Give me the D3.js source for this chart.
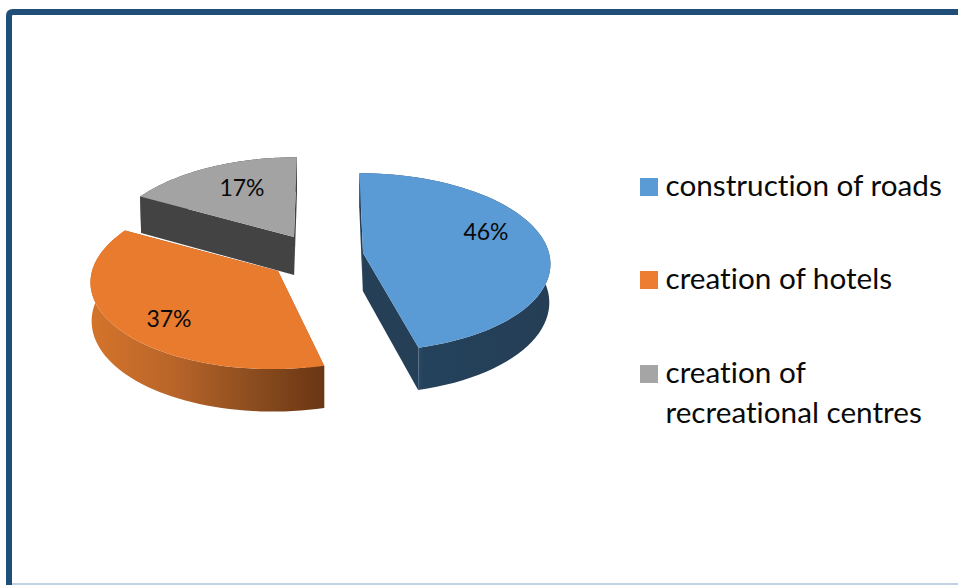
<!DOCTYPE html>
<html>
<head>
<meta charset="utf-8">
<script src="https://cdn.jsdelivr.net/npm/d3@7"></script>
<style>
html,body{margin:0;padding:0;background:#fff;overflow:hidden}
text{font-family:Lato,"Open Sans",sans-serif;fill:#0a0a0a;font-variant-ligatures:none}
</style>
</head>
<body>
<svg id="c" width="958" height="585"></svg>
<script>
const categories = ["construction of roads", "creation of hotels", "creation of recreational centres"];
const values = [46, 37, 17];
const valueLabels = ["46%", "37%", "17%"];
const topColors = ["#5b9bd5", "#e97b2f", "#a3a3a3"];
const wallColors = ["#253f57", "#8a4c1d", "#434343"];

// Layout: apex of each exploded slice and the 3D look of the pie
const apexes = [[363, 253], [278, 271], [294, 237]];
const labelAt = [[486, 231], [169, 318], [242, 187]];
const legendLines = [["construction of roads"], ["creation of hotels"], ["creation of", "recreational centres"]];
const legendBase = [196, 289, 383];
const R = 186, RY = 88, PERSP = 0.103, VX = 325, DEPTH = 37, BOTTOM_X = 0.995;

const svg = d3.select("#c");
const defs = svg.append("defs");

// frame
svg.append("path").attr("d", "M9 585V16Q9 12 13 12H958")
  .attr("fill", "none").attr("stroke", "#1f4e79").attr("stroke-width", 6);
svg.append("line").attr("x1", 12).attr("x2", 958).attr("y1", 584).attr("y2", 584)
  .attr("stroke", "#adc4da").attr("stroke-width", 1.5);

// gradients for the curved side walls
const g1 = defs.append("linearGradient").attr("id", "wall1").attr("gradientUnits", "userSpaceOnUse")
  .attr("x1", 90).attr("x2", 326).attr("y1", 0).attr("y2", 0);
[[0, "#d4742b"], [0.35, "#b9652a"], [0.7, "#8a4c1e"], [1, "#693513"]].forEach(s =>
  g1.append("stop").attr("offset", s[0]).attr("stop-color", s[1]));
const g0 = defs.append("linearGradient").attr("id", "wall0").attr("gradientUnits", "userSpaceOnUse")
  .attr("x1", 415).attr("x2", 550).attr("y1", 0).attr("y2", 0);
[[0, "#2b5072"], [0.06, "#25425c"], [1, "#243e55"]].forEach(s =>
  g0.append("stop").attr("offset", s[0]).attr("stop-color", s[1]));

const pieAngles = d3.pie().sort(null).value(d => d)(values);
const line = d3.line();

function project(i, a, r, bottom) {
  const u = Math.sin(a) * r, v = -Math.cos(a) * r;
  const k = 1 / (1 - PERSP * v);
  let x = VX + (apexes[i][0] + R * u - VX) * k;
  let y = apexes[i][1] + RY * v * k;
  if (bottom) { x = VX + (x - VX) * BOTTOM_X; y += DEPTH * k * 1.03; }
  return [x, y];
}
const arcAngles = (s) => d3.range(0, 61).map(j => s.startAngle + (s.endAngle - s.startAngle) * j / 60);

// draw back slices first
[2, 0, 1].forEach(i => {
  const s = pieAngles[i];
  const g = svg.append("g");
  const angles = arcAngles(s);
  const topArc = angles.map(a => project(i, a, 1, false));
  const botArc = angles.map(a => project(i, a, 1, true));
  const apexT = project(i, 0, 0, false), apexB = project(i, 0, 0, true);
  // cut faces
  [s.startAngle, s.endAngle].forEach(a => {
    g.append("path").attr("fill", wallColors[i]).attr("d", line([
      apexT, project(i, a, 1, false), project(i, a, 1, true), apexB
    ]) + "Z");
  });
  // curved wall
  g.append("path")
    .attr("fill", i === 0 ? "url(#wall0)" : i === 1 ? "url(#wall1)" : wallColors[i])
    .attr("d", line(topArc.concat(botArc.slice().reverse())) + "Z");
  // top
  g.append("path").attr("fill", topColors[i]).attr("d", line([apexT].concat(topArc)) + "Z");
});

// value labels
valueLabels.forEach((t, i) => {
  svg.append("text").attr("x", labelAt[i][0]).attr("y", labelAt[i][1])
    .attr("text-anchor", "middle").attr("dominant-baseline", "central")
    .attr("font-size", 23).text(t);
});

// legend
const legendSwatch = ["#5b9bd5", "#ed7d31", "#a5a5a5"];
categories.forEach((c, i) => {
  svg.append("rect").attr("x", 640).attr("y", legendBase[i] - 18).attr("width", 18).attr("height", 18)
    .attr("fill", legendSwatch[i]);
  legendLines[i].forEach((t, j) => {
    svg.append("text").attr("x", 665.5).attr("y", legendBase[i] + j * 40)
      .attr("font-size", 29.7).text(t);
  });
});
</script>
</body>
</html>
